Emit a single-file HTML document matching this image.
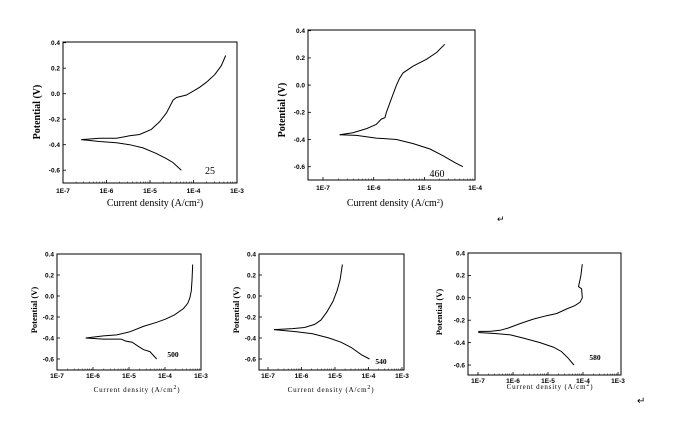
<!DOCTYPE html>
<html><head><meta charset="utf-8"><style>
html,body{margin:0;padding:0;background:#fff;}
svg{display:block;}
text{font-family:"Liberation Serif",serif;fill:#000;}
.tk{font-family:"Liberation Sans",sans-serif;font-size:6.5px;font-weight:bold;}
.yt{font-weight:bold;}
</style></head><body>
<svg id="fig" width="676" height="425" viewBox="0 0 676 425" xmlns="http://www.w3.org/2000/svg">
<text x="497" y="222" font-size="9" fill="#666">↵</text>
<text x="637" y="404" font-size="10">↵</text>
</svg>
<script>
// ---- data (log10 current density, potential V) ----
const p25AnodicX=[-6.58,-6.16,-5.77,-5.47,-5.24,-4.97,-4.78,-4.62,-4.47,-4.39,-4.16,-4.01,-3.86,-3.70,-3.51,-3.36,-3.26];
const p25AnodicY=[-0.36,-0.35,-0.35,-0.33,-0.32,-0.28,-0.22,-0.15,-0.05,-0.03,-0.01,0.02,0.05,0.09,0.15,0.22,0.30];
const p25CathX=[-6.58,-6.16,-5.77,-5.47,-5.16,-4.85,-4.62,-4.47,-4.28];
const p25CathY=[-0.36,-0.375,-0.385,-0.40,-0.425,-0.47,-0.51,-0.54,-0.60];
const p460AnodicX=[-6.67,-6.41,-6.14,-5.95,-5.85,-5.78,-5.75,-5.65,-5.55,-5.49,-5.42,-5.22,-4.96,-4.76,-4.60];
const p460AnodicY=[-0.365,-0.35,-0.32,-0.29,-0.25,-0.24,-0.20,-0.10,0.0,0.05,0.09,0.14,0.19,0.24,0.30];
const p460CathX=[-6.67,-6.34,-5.95,-5.55,-5.22,-4.89,-4.63,-4.40,-4.24];
const p460CathY=[-0.365,-0.37,-0.39,-0.40,-0.43,-0.47,-0.52,-0.57,-0.60];
const p500AnodicX=[-6.2,-5.71,-5.34,-4.97,-4.6,-4.23,-3.98,-3.74,-3.49,-3.37,-3.31,-3.27,-3.25,-3.23];
const p500AnodicY=[-0.40,-0.38,-0.37,-0.34,-0.29,-0.25,-0.22,-0.18,-0.12,-0.07,-0.02,0.05,0.15,0.30];
const p500CathX=[-6.2,-5.71,-5.22,-5.09,-4.91,-4.78,-4.6,-4.42,-4.23];
const p500CathY=[-0.40,-0.41,-0.41,-0.43,-0.44,-0.47,-0.51,-0.53,-0.60];
const p540AnodicX=[-6.82,-6.27,-5.91,-5.61,-5.42,-5.24,-5.06,-4.94,-4.85,-4.78];
const p540AnodicY=[-0.32,-0.31,-0.30,-0.27,-0.23,-0.15,-0.05,0.05,0.15,0.30];
const p540CathX=[-6.82,-6.15,-5.67,-5.18,-4.82,-4.52,-4.21,-3.97];
const p540CathY=[-0.32,-0.34,-0.36,-0.40,-0.44,-0.49,-0.56,-0.60];
const p580AnodicX=[-6.99,-6.66,-6.37,-6.13,-5.80,-5.42,-5.04,-4.75,-4.47,-4.23,-4.09,-4.02,-4.04,-4.13,-4.10,-4.06,-4.02];
const p580AnodicY=[-0.30,-0.30,-0.29,-0.27,-0.23,-0.19,-0.16,-0.14,-0.10,-0.07,-0.04,0.0,0.08,0.10,0.14,0.20,0.30];
const p580CathX=[-6.99,-6.47,-6.09,-5.70,-5.23,-4.85,-4.61,-4.42,-4.26];
const p580CathY=[-0.31,-0.32,-0.33,-0.36,-0.40,-0.44,-0.48,-0.54,-0.60];
const yTickVals=[0.4,0.2,0.0,-0.2,-0.4,-0.6];
const yTickLabels=["0.4","0.2","0.0","-0.2","-0.4","-0.6"];

const NS="http://www.w3.org/2000/svg";
const svg=document.getElementById('fig');
function mk(tag,attrs,parent){const e=document.createElementNS(NS,tag);for(const k in attrs)e.setAttribute(k,attrs[k]);(parent||svg).appendChild(e);return e;}

const panels=[
 {id:'25',bx0:63,bx1:237,by0:42,by1:183,x7:63,dec:43.5,y04:42.7,d02:25.5,xd:[-7,-3],lab:[210,174],yt:[40,112],xt:[155,206],big:true,a:[p25AnodicX,p25AnodicY],c:[p25CathX,p25CathY]},
 {id:'460',bx0:308,bx1:475,by0:30,by1:180,x7:323,dec:50.7,y04:30.7,d02:27.2,xd:[-7,-4],lab:[437,177],yt:[285,110],xt:[395,206],big:true,a:[p460AnodicX,p460AnodicY],c:[p460CathX,p460CathY]},
 {id:'500',bx0:57,bx1:201,by0:254,by1:370,x7:57,dec:36,y04:254,d02:21,xd:[-7,-3],lab:[173,357],yt:[37,310],xt:[137,392],big:false,a:[p500AnodicX,p500AnodicY],c:[p500CathX,p500CathY]},
 {id:'540',bx0:259,bx1:404,by0:254,by1:370,x7:268,dec:33.5,y04:254,d02:21,xd:[-7,-3],lab:[381,364],yt:[239,310],xt:[331,392],big:false,a:[p540AnodicX,p540AnodicY],c:[p540CathX,p540CathY]},
 {id:'580',bx0:468,bx1:621,by0:253,by1:375,x7:478,dec:35,y04:253,d02:22.4,xd:[-7,-3],lab:[595,360],yt:[442,312],xt:[550,389],big:false,a:[p580AnodicX,p580AnodicY],c:[p580CathX,p580CathY]}
];

panels.forEach(p=>{
  const X=v=>p.x7+(v+7)*p.dec;
  const Y=v=>p.y04+(0.4-v)/0.2*p.d02;
  const g=mk('g',{});
  
  
  const box=mk('rect',{x:p.bx0,y:p.by0,width:p.bx1-p.bx0,height:p.by1-p.by0,fill:'none',stroke:'#000','stroke-width':1},g);
  
  
  yTickVals.forEach((v,i)=>{
    const y=Y(v);
    mk('line',{x1:p.bx0,x2:p.bx0+3,y1:y,y2:y,stroke:'#000','stroke-width':0.8},g);
    const t=mk('text',{x:p.bx0-3,y:y+2.3,'text-anchor':'end',class:'tk','font-size':p.big?6.5:6},g);
    t.textContent=yTickLabels[i];
    
    
  });
  for(let d=p.xd[0];d<=p.xd[1];d++){
    const x=X(d);
    mk('line',{x1:x,x2:x,y1:p.by1,y2:p.by1-3,stroke:'#000','stroke-width':0.8},g);
    if(d<p.xd[1]) for(let m=2;m<10;m++){const xm=X(d+Math.log10(m));mk('line',{x1:xm,x2:xm,y1:p.by1,y2:p.by1-1.5,stroke:'#000','stroke-width':0.5},g);}
    const t=mk('text',{x:x,y:p.by1+(p.big?10:8),'text-anchor':'middle',class:'tk','font-size':p.big?6.5:6},g);
    t.textContent='1E'+d;
    
    
  }
  [p.a,p.c].forEach((s,k)=>{
    const pts=s[0].map((xv,i)=>X(xv).toFixed(1)+','+Y(s[1][i]).toFixed(1)).join(' ');
    const pl=mk('polyline',{points:pts,fill:'none',stroke:'#000','stroke-width':1},g);
    
    
  });
  const lb=mk('text',{x:p.lab[0],y:p.lab[1],'text-anchor':'middle','font-family':'Liberation Sans','font-size':p.big?10:7.5,'font-weight':p.big?'normal':'bold'},g);
  lb.textContent=p.id;
  
  
  const yt=mk('text',{x:p.yt[0],y:p.yt[1],'text-anchor':'middle',class:'yt',transform:'rotate(-90 '+p.yt[0]+' '+p.yt[1]+')','font-size':p.big?10:8.5},g);
  yt.textContent='Potential (V)';
  
  
  const xt=mk('text',{x:p.xt[0],y:p.xt[1],'text-anchor':'middle','font-size':p.big?10:7,'letter-spacing':p.big?0:0.8},g);
  xt.innerHTML='Current density (A/cm<tspan dy="-3" font-size="6">2</tspan><tspan dy="3">)</tspan>';
  
  
});
</script>
</body></html>
